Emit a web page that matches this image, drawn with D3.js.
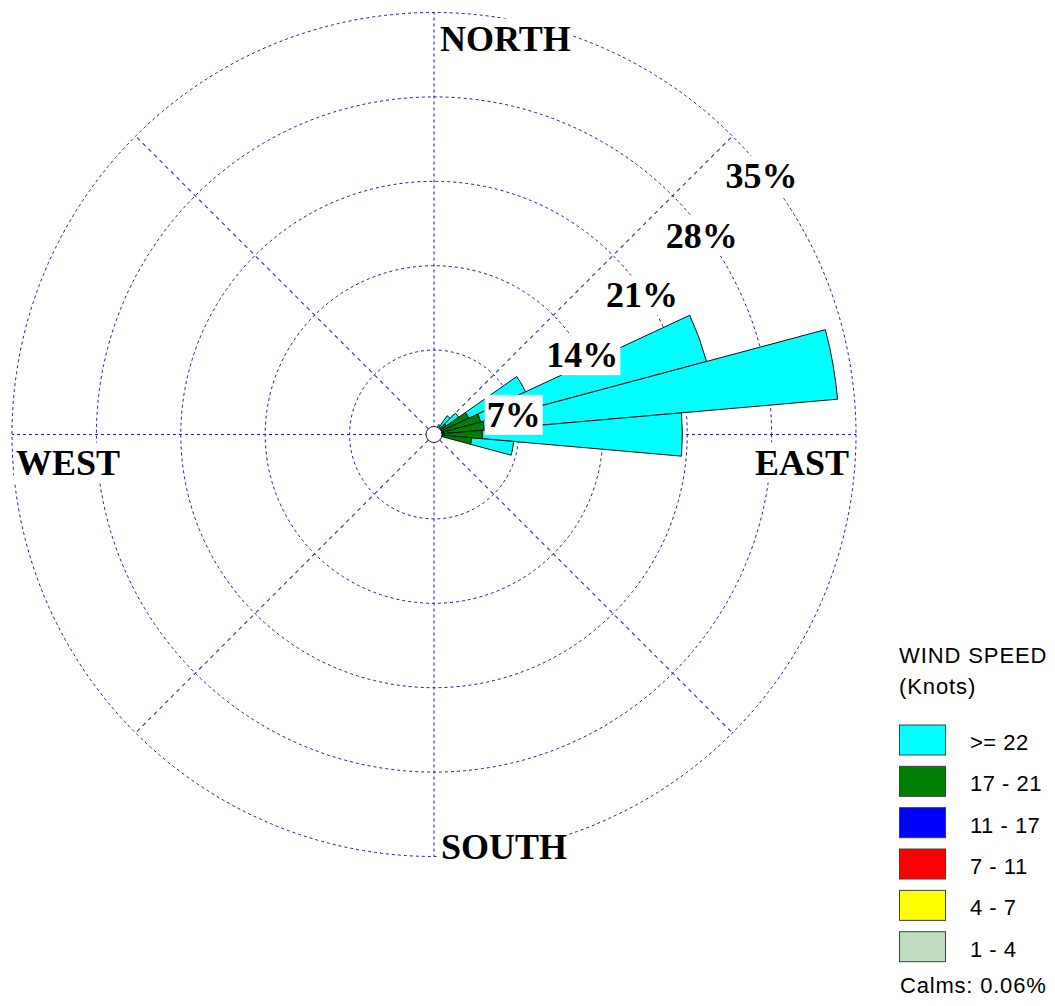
<!DOCTYPE html>
<html>
<head>
<meta charset="utf-8">
<script src="https://cdn.jsdelivr.net/npm/d3@7"></script>
<style>
  body { margin: 0; background: #fff; }
  svg { display: block; }
</style>
</head>
<body>
<svg id="chart" width="1055" height="1006"></svg>
<script>
// ---------- data ----------
const directions = [30, 40, 50, 60, 70, 80, 90, 100, 110];   // degrees (compass)
const bandKeys   = ["1 - 4", "4 - 7", "7 - 11", "11 - 17", "17 - 21", ">= 22"];
const bandColors = ["#c0dcc0", "#ffff00", "#ff0000", "#0000ff", "#008000", "#00ffff"];
// percent frequency per speed band, for each direction
const speed1_4   = [0.02, 0.02, 0.02, 0.03, 0.05, 0.05, 0.05, 0.03, 0.02];
const speed4_7   = [0.03, 0.03, 0.03, 0.05, 0.10, 0.10, 0.10, 0.05, 0.03];
const speed7_11  = [0.05, 0.05, 0.05, 0.10, 0.15, 0.15, 0.15, 0.10, 0.05];
const speed11_17 = [0.10, 0.10, 0.15, 0.30, 0.50, 0.50, 0.50, 0.35, 0.10];
const speed17_21 = [0.30, 0.60, 1.00, 2.70, 3.20, 3.40, 3.20, 2.60, 0.20];
const speed22up  = [0.40, 1.10, 1.25, 5.20, 19.40, 29.40, 16.60, 3.50, 0.20];
const ringValues = [7, 14, 21, 28, 35];
const ringLabels = ["7%", "14%", "21%", "28%", "35%"];
const compassLabels = ["NORTH", "EAST", "SOUTH", "WEST"];
const legendTitle = ["WIND SPEED", "(Knots)"];
const calmsText = "Calms: 0.06%";

// ---------- layout ----------
const svg = d3.select("#chart");
const cx = 434, cy = 434.5, R = 422;
const rScale = d3.scaleLinear().domain([0, 35]).range([0, R]);
const gridColor = "#1c1ca8";
const serif = "'Liberation Serif', 'Times New Roman', serif";
const sans = "'Liberation Sans', Arial, sans-serif";

const root = svg.append("g").attr("transform", `translate(${cx},${cy})`);

// grid rings
root.append("g").selectAll("circle").data(ringValues).join("circle")
  .attr("r", d => rScale(d))
  .attr("fill", "none")
  .attr("stroke", gridColor)
  .attr("stroke-width", 1)
  .attr("stroke-dasharray", "3,3");

// spokes
const spokes = d3.range(0, 360, 45);
root.append("g").selectAll("line").data(spokes).join("line")
  .attr("x1", 0).attr("y1", 0)
  .attr("x2", d => rScale(35) * Math.sin(d * Math.PI / 180))
  .attr("y2", d => -rScale(35) * Math.cos(d * Math.PI / 180))
  .attr("stroke", gridColor)
  .attr("stroke-opacity", d => d % 90 === 0 ? 1 : 0.9)
  .attr("stroke-width", d => d % 90 === 0 ? 1 : 1.1)
  .attr("stroke-dasharray", d => d % 90 === 0 ? "3,3" : "4,4");

// petals
const table = directions.map((dir, i) => ({
  dir,
  "1 - 4": speed1_4[i], "4 - 7": speed4_7[i], "7 - 11": speed7_11[i],
  "11 - 17": speed11_17[i], "17 - 21": speed17_21[i], ">= 22": speed22up[i]
}));
const stacked = d3.stack().keys(bandKeys)(table);
const halfW = 5 * Math.PI / 180;
const arc = d3.arc()
  .innerRadius(d => rScale(d[0]))
  .outerRadius(d => rScale(d[1]))
  .startAngle(d => d.data.dir * Math.PI / 180 - halfW)
  .endAngle(d => d.data.dir * Math.PI / 180 + halfW);

const petals = root.append("g");
stacked.slice().reverse().forEach(layer => {
  const ci = bandKeys.indexOf(layer.key);
  petals.append("g").selectAll("path").data(layer).join("path")
    .attr("d", arc)
    .attr("fill", bandColors[ci])
    .attr("stroke", "#111")
    .attr("stroke-width", 1)
    .attr("stroke-linejoin", "miter");
});

// calm circle
root.append("circle").attr("r", 8).attr("fill", "#fff")
  .attr("stroke", "#222").attr("stroke-width", 1);

// helper: text with white box
function boxedText(g, x, y, txt, anchor, padX, padY) {
  const grp = g.append("g");
  const rect = grp.append("rect").attr("fill", "#fff");
  const t = grp.append("text")
    .attr("x", x).attr("y", y)
    .attr("text-anchor", anchor || "start")
    .attr("font-family", serif)
    .attr("font-weight", "bold")
    .attr("font-size", 36)
    .attr("fill", "#000")
    .text(txt);
  const bb = t.node().getBBox();
  rect.attr("x", bb.x - padX).attr("y", bb.y - padY)
      .attr("width", bb.width + 2 * padX).attr("height", bb.height + 2 * padY);
}

// ring labels along the NE diagonal
const labelsG = root.append("g");
ringValues.forEach((v, i) => {
  const rr = rScale(v);
  const ix = rr * Math.SQRT1_2, iy = -rr * Math.SQRT1_2;
  boxedText(labelsG, ix - 7, iy + 52, ringLabels[i], "start", 2, 0);
});

// compass labels
const compassPos = [
  { x: 6, y: -R + 38, anchor: "start" },        // NORTH
  { x: R - 7, y: 40, anchor: "end" },           // EAST
  { x: 7, y: R + 2.5, anchor: "start" },        // SOUTH
  { x: -R + 4, y: 40, anchor: "start" }         // WEST
];
compassLabels.forEach((lab, i) => {
  boxedText(labelsG, compassPos[i].x, compassPos[i].y, lab, compassPos[i].anchor, 2, 0);
});

// ---------- legend ----------
const leg = svg.append("g").attr("transform", "translate(900,0)");
leg.selectAll("text.title").data(legendTitle).join("text")
  .attr("class", "title")
  .attr("x", -1).attr("y", (d, i) => 663 + i * 31)
  .attr("font-family", sans).attr("font-size", 22)
  .attr("letter-spacing", 0.9)
  .attr("fill", "#000")
  .text(d => d);

const legendOrder = bandKeys.slice().reverse();
const rowY = d3.scaleLinear().domain([0, 5]).range([725, 931.7]);
legendOrder.forEach((k, i) => {
  const ci = bandKeys.indexOf(k);
  leg.append("rect")
    .attr("x", -0.5).attr("y", rowY(i))
    .attr("width", 46).attr("height", 30)
    .attr("fill", bandColors[ci])
    .attr("stroke", "#404040").attr("stroke-width", 1);
  leg.append("text")
    .attr("x", 70).attr("y", rowY(i) + 25)
    .attr("font-family", sans).attr("font-size", 22)
    .attr("letter-spacing", 0.5)
    .attr("fill", "#000")
    .text(k);
});
leg.append("text")
  .attr("x", 0).attr("y", 993)
  .attr("font-family", sans).attr("font-size", 22)
  .attr("letter-spacing", 0.8)
  .attr("fill", "#000")
  .text(calmsText);
</script>
</body>
</html>
